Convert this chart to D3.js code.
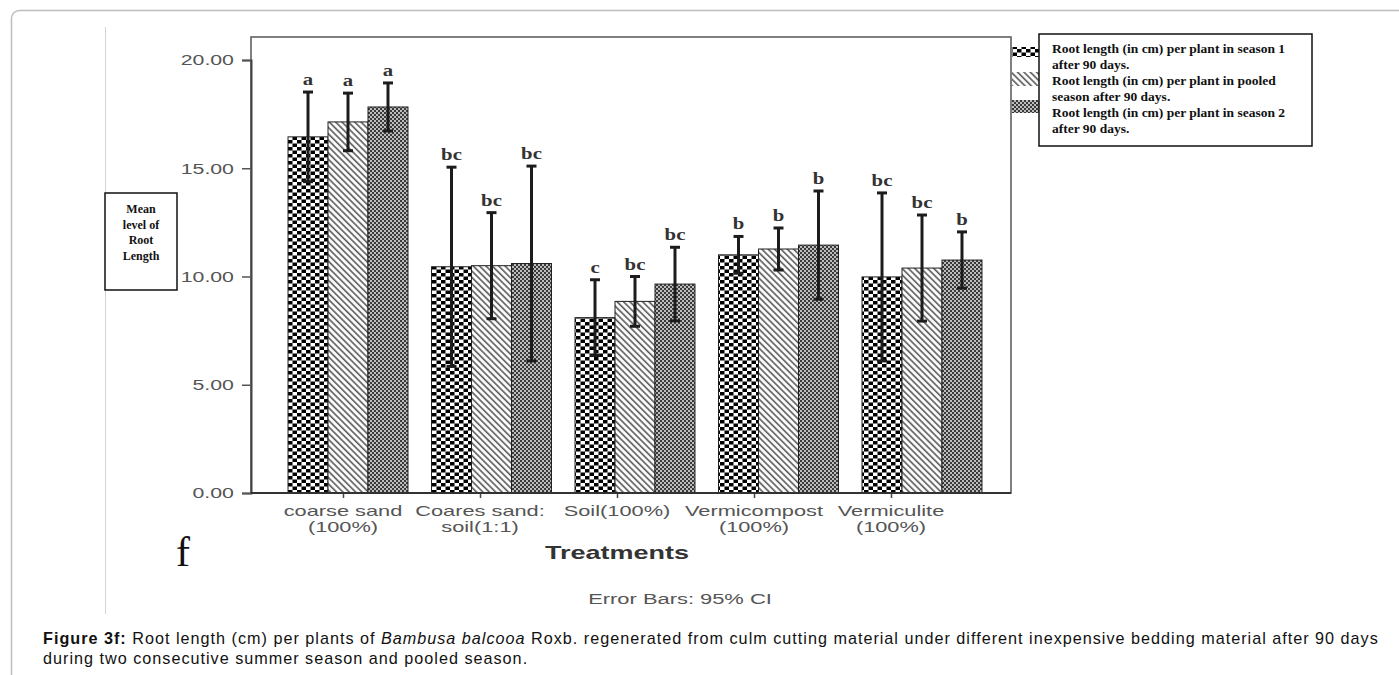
<!DOCTYPE html>
<html><head><meta charset="utf-8">
<script src="https://cdn.jsdelivr.net/npm/d3@7"></script>
<style>body{margin:0;background:#fff;} svg{display:block;}</style>
</head><body>
<svg id="c" width="1399" height="675"></svg>
<script>
// ---------- data ----------
const categories = ["coarse sand (100%)", "Coares sand: soil(1:1)", "Soil(100%)", "Vermicompost (100%)", "Vermiculite (100%)"];
const categoryLines = [["coarse sand", "(100%)"], ["Coares sand:", "soil(1:1)"], ["Soil(100%)"], ["Vermicompost", "(100%)"], ["Vermiculite", "(100%)"]];
const seriesKeys = ["season1", "pooled", "season2"];
const legendLines = [
  ["Root length (in cm) per plant in season 1", "after 90 days."],
  ["Root length (in cm) per plant in pooled", "season after 90 days."],
  ["Root length (in cm) per plant in season 2", "after 90 days."]
];
const season1Mean = [16.45, 10.45, 8.10, 11.00, 9.98];
const pooledMean  = [17.14, 10.50, 8.85, 11.27, 10.39];
const season2Mean = [17.83, 10.60, 9.65, 11.45, 10.76];
const season1Hi = [18.52, 15.05, 9.85, 11.85, 13.86];
const pooledHi  = [18.47, 12.95, 10.00, 12.24, 12.84];
const season2Hi = [18.94, 15.10, 11.35, 13.95, 12.06];
const season1Lo = [14.38, 5.85, 6.35, 10.15, 6.10];
const pooledLo  = [15.81, 8.05, 7.70, 10.30, 7.94];
const season2Lo = [16.72, 6.10, 7.95, 8.95, 9.46];
const season1Letters = ["a", "bc", "c", "b", "bc"];
const pooledLetters  = ["a", "bc", "bc", "b", "bc"];
const season2Letters = ["a", "bc", "bc", "b", "b"];
const yTicks = [0, 5, 10, 15, 20];
const yLabelLines = ["Mean", "level of", "Root", "Length"];
const xTitle = "Treatments";
const footnote = "Error Bars: 95% CI";

const means = [season1Mean, pooledMean, season2Mean];
const his = [season1Hi, pooledHi, season2Hi];
const los = [season1Lo, pooledLo, season2Lo];
const letters = [season1Letters, pooledLetters, season2Letters];

// ---------- setup ----------
const svg = d3.select("#c");
const defs = svg.append("defs");

const p1 = defs.append("pattern").attr("id", "pat0").attr("patternUnits", "userSpaceOnUse")
  .attr("width", 9).attr("height", 7);
p1.append("rect").attr("width", 9).attr("height", 7).attr("fill", "#fff");
p1.append("rect").attr("x", 0).attr("y", 0).attr("width", 4.5).attr("height", 3.5).attr("fill", "#000");
p1.append("rect").attr("x", 4.5).attr("y", 3.5).attr("width", 4.5).attr("height", 3.5).attr("fill", "#000");
const p2 = defs.append("pattern").attr("id", "pat1").attr("patternUnits", "userSpaceOnUse")
  .attr("width", 4.5).attr("height", 4.5).attr("patternTransform", "rotate(45)");
p2.append("rect").attr("width", 4.5).attr("height", 4.5).attr("fill", "#fff");
p2.append("line").attr("x1", 0).attr("x2", 4.5).attr("y1", 2).attr("y2", 2)
  .attr("stroke", "#555").attr("stroke-width", 1.6);
const p3 = defs.append("pattern").attr("id", "pat2").attr("patternUnits", "userSpaceOnUse")
  .attr("width", 4).attr("height", 4);
p3.append("rect").attr("width", 4).attr("height", 4).attr("fill", "#bdbdbd");
p3.append("rect").attr("x", 0).attr("y", 0).attr("width", 2).attr("height", 2).attr("fill", "#3a3a3a");
p3.append("rect").attr("x", 2).attr("y", 2).attr("width", 2).attr("height", 2).attr("fill", "#3a3a3a");

svg.append("rect").attr("x", 11.5).attr("y", 10.5).attr("width", 1600).attr("height", 1000)
  .attr("rx", 8).attr("fill", "none").attr("stroke", "#bdbdbd").attr("stroke-width", 1.5);
svg.append("line").attr("x1", 105.5).attr("x2", 105.5).attr("y1", 27).attr("y2", 614)
  .attr("stroke", "#d4d4d4").attr("stroke-width", 1);

// ---------- scales ----------
const plot = {left: 251, right: 1011, top: 37, bottom: 493};
const y = d3.scaleLinear().domain([0, 20]).range([493, 60]);
const x0 = d3.scaleBand().domain(categories).range([276.25, 993.75]).paddingInner(0.164).paddingOuter(0.082);
const x1 = d3.scaleBand().domain(seriesKeys).range([0, x0.bandwidth()]);
const xAxisScale = d3.scalePoint().domain(categories).range([343, 891]);

const SX = 1.42;

svg.append("rect").attr("x", plot.left).attr("y", plot.top)
  .attr("width", plot.right - plot.left).attr("height", plot.bottom - plot.top)
  .attr("fill", "none").attr("stroke", "#555").attr("stroke-width", 1.5);

const rows = [];
categories.forEach((c, i) => seriesKeys.forEach((k, s) => rows.push({c, i, k, s,
  v: means[s][i], hi: his[s][i], lo: los[s][i], letter: letters[s][i]})));

svg.append("g").selectAll("rect").data(rows).join("rect")
  .attr("x", d => x0(d.c) + x1(d.k))
  .attr("y", d => y(d.v))
  .attr("width", x1.bandwidth())
  .attr("height", d => y(0) - y(d.v))
  .attr("fill", d => `url(#pat${d.s})`)
  .attr("stroke", "#222").attr("stroke-width", 1);

const eb = svg.append("g").attr("stroke", "#1c1c1c").attr("stroke-width", 3);
rows.forEach(d => {
  const cx = x0(d.c) + x1(d.k) + x1.bandwidth() / 2;
  eb.append("line").attr("x1", cx).attr("x2", cx).attr("y1", y(d.hi)).attr("y2", y(d.lo));
  eb.append("line").attr("x1", cx - 5).attr("x2", cx + 5).attr("y1", y(d.hi)).attr("y2", y(d.hi));
  eb.append("line").attr("x1", cx - 5).attr("x2", cx + 5).attr("y1", y(d.lo)).attr("y2", y(d.lo));
});

svg.append("g").selectAll("text").data(rows).join("text")
  .attr("transform", d => `translate(${x0(d.c) + x1(d.k) + x1.bandwidth() / 2},${y(d.hi) - 7}) scale(1.3,1)`)
  .attr("text-anchor", "middle")
  .attr("font-family", "Liberation Serif, Times New Roman, serif")
  .attr("font-weight", "bold").attr("font-size", 16).attr("fill", "#333")
  .text(d => d.letter);

const yAxis = svg.append("g").attr("transform", `translate(${plot.left},0)`)
  .call(d3.axisLeft(y).tickValues(yTicks).tickFormat(d3.format(".2f")).tickSize(9).tickPadding(3));
yAxis.select(".domain").attr("stroke", "#444").attr("stroke-width", 2);
yAxis.selectAll(".tick line").attr("stroke", "#555").attr("stroke-width", 1.5);
yAxis.selectAll(".tick text")
  .attr("font-family", "Liberation Sans, Arial, sans-serif").attr("font-size", 15)
  .attr("fill", "#555").attr("transform", `scale(${SX},1)`);

const xAxis = svg.append("g").attr("transform", `translate(0,${plot.bottom})`)
  .call(d3.axisBottom(xAxisScale).tickSize(5).tickFormat(""));
xAxis.select(".domain").remove();
xAxis.selectAll(".tick line").attr("stroke", "#444").attr("stroke-width", 1.5);
svg.append("line").attr("x1", plot.left).attr("x2", plot.right).attr("y1", plot.bottom).attr("y2", plot.bottom)
  .attr("stroke", "#333").attr("stroke-width", 2);
categories.forEach((c, i) => {
  categoryLines[i].forEach((ln, j) => {
    svg.append("text")
      .attr("transform", `translate(${xAxisScale(c)},${plot.bottom + 23 + j * 16}) scale(1.58,1)`)
      .attr("text-anchor", "middle")
      .attr("font-family", "Liberation Sans, Arial, sans-serif").attr("font-size", 13.8)
      .attr("fill", "#555").text(ln);
  });
});

svg.append("text").attr("transform", `translate(617,559) scale(1.5,1)`)
  .attr("text-anchor", "middle").attr("font-family", "Liberation Sans, Arial, sans-serif")
  .attr("font-weight", "bold").attr("font-size", 18).attr("fill", "#333").text(xTitle);
svg.append("text").attr("transform", `translate(680,604) scale(1.46,1)`)
  .attr("text-anchor", "middle").attr("font-family", "Liberation Sans, Arial, sans-serif")
  .attr("font-size", 15).attr("fill", "#555").text(footnote);

svg.append("text").attr("x", 176).attr("y", 566)
  .attr("font-family", "Liberation Serif, Times New Roman, serif").attr("font-size", 42)
  .attr("fill", "#111").text("f");

svg.append("rect").attr("x", 105).attr("y", 193).attr("width", 72).attr("height", 97)
  .attr("fill", "#fff").attr("stroke", "#111").attr("stroke-width", 1.5);
yLabelLines.forEach((ln, j) => {
  svg.append("text").attr("x", 141).attr("y", 213 + j * 15.5).attr("text-anchor", "middle")
    .attr("font-family", "Liberation Serif, Times New Roman, serif").attr("font-weight", "bold")
    .attr("font-size", 12).attr("fill", "#111").text(ln);
});

const swatchY = [47, 72, 100];
const swatchH = [10, 14, 13];
seriesKeys.forEach((k, s) => {
  svg.append("rect").attr("x", 1012).attr("y", swatchY[s]).attr("width", 28).attr("height", swatchH[s])
    .attr("fill", `url(#pat${s})`);
});
svg.append("rect").attr("x", 1039).attr("y", 34).attr("width", 273).attr("height", 112)
  .attr("fill", "#fff").attr("stroke", "#111").attr("stroke-width", 1.5);
legendLines.forEach((lines, s) => {
  lines.forEach((ln, j) => {
    svg.append("text").attr("x", 1052).attr("y", 53 + (s * 2 + j) * 16)
      .attr("font-family", "Liberation Serif, Times New Roman, serif").attr("font-weight", "bold")
      .attr("font-size", 13.5).attr("fill", "#111").text(ln);
  });
});

const cap = svg.append("text").attr("x", 43).attr("y", 644)
  .attr("font-family", "Liberation Sans, Arial, sans-serif")
  .attr("font-size", 16.2).attr("letter-spacing", 1.0).attr("fill", "#111");
cap.append("tspan").attr("font-weight", "bold").text("Figure 3f:");
cap.append("tspan").text(" Root length (cm) per plants of ");
cap.append("tspan").attr("font-style", "italic").text("Bambusa balcooa");
cap.append("tspan").text(" Roxb. regenerated from culm cutting material under different inexpensive bedding material after 90 days");
svg.append("text").attr("x", 43).attr("y", 664)
  .attr("font-family", "Liberation Sans, Arial, sans-serif")
  .attr("font-size", 16.2).attr("letter-spacing", 1.0).attr("fill", "#111")
  .text("during two consecutive summer season and pooled season.");
</script>
</body></html>
